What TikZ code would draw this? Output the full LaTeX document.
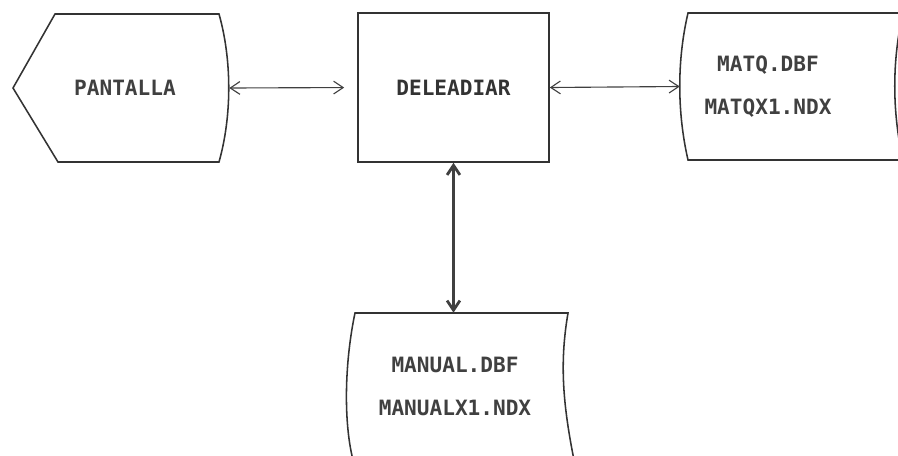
\documentclass[tikz,border=0pt]{standalone}
\usepackage{fontspec}
\setmonofont{DejaVu Sans Mono}
\usetikzlibrary{positioning,arrows.meta,calc}
\tikzset{
  linkarrow/.style={{Straight Barb[length=2.4mm,width=3.2mm]}-{Straight Barb[length=2.4mm,width=3.2mm]}, line width=0.8pt, black!75},
  boldlink/.style={linkarrow, line width=2pt},
  outline/.style={line width=1.1pt, black!80},
  procbox/.style={draw, outline, minimum width=4.775cm, minimum height=3.725cm, inner sep=0pt, align=center},
  filenode/.style={inner sep=0pt, align=center},
  labeltext/.style={font=\ttfamily\bfseries\fontsize{15}{30.5}\selectfont, text=black!75}
}

\begin{document}
\begin{tikzpicture}[x=0.025cm, y=-0.025cm, every node/.style={labeltext}]
  \useasboundingbox (0,0) rectangle (898,455);

  % screen, process and files
  \node[filenode, minimum width=5.2cm, minimum height=3.7cm] (pan) at (125,88) {PANTALLA};
  \node[procbox] (del) at (453.5,87.5) {DELEADIAR};
  \node[filenode, minimum width=4.4cm, minimum height=3.675cm] (matq) at (768,86.5) {MATQ.DBF\\MATQX1.NDX};
  \node[filenode, minimum width=5.325cm, minimum height=3.65cm] (man) at (455,386) {MANUAL.DBF\\MANUALX1.NDX};

  % outlines of the shapes
  \draw[outline] (55,14) -- (13,88) -- (58,162) -- (219,162)
    .. controls (232,116) and (232,60) .. (219,14) -- cycle;
  \draw[outline] (910,13) -- (688,13) .. controls (677,60) and (677,112) .. (688,160) -- (910,160);
  \draw[outline] (903,13) .. controls (892,60) and (892,112) .. (903,160);
  \draw[outline] (353,460) .. controls (343,420) and (345,360) .. (355,313)
    -- (568,313) .. controls (560,360) and (562,400) .. (574,460);

  % connectors
  \draw[linkarrow, shorten >=0.325cm] (pan.east) -- (del.west);
  \draw[linkarrow] (del.east) -- (matq.west);
  \draw[boldlink] (del.south) -- (del.south |- man.north);
\end{tikzpicture}
\end{document}
